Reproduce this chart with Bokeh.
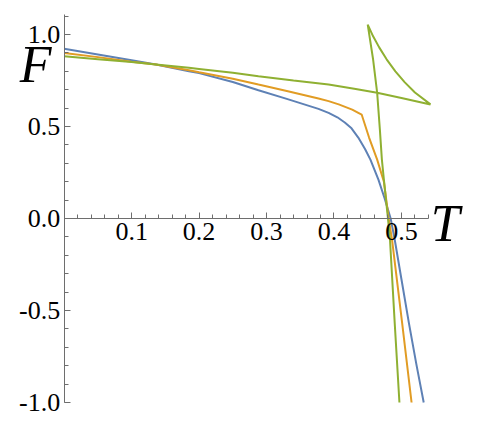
from bokeh.plotting import figure
from bokeh.models import FixedTicker, PrintfTickFormatter, Label, Range1d
from bokeh.embed import file_html
from bokeh.resources import INLINE

# ---- data ----
blue_T = [0.0, 0.05, 0.1, 0.136, 0.185, 0.2, 0.25, 0.288, 0.33, 0.377, 0.392, 0.405,
          0.416, 0.426, 0.436, 0.446, 0.454, 0.466, 0.475, 0.484, 0.490, 0.50, 0.511, 0.522, 0.533]
blue_F = [0.922, 0.891, 0.86, 0.837, 0.80, 0.79, 0.742, 0.697, 0.65, 0.596, 0.574, 0.55,
          0.522, 0.49, 0.44, 0.378, 0.32, 0.21, 0.11, 0.0, -0.114, -0.33, -0.567, -0.79, -1.0]

orange_T = [0.0, 0.05, 0.1, 0.136, 0.185, 0.2, 0.25, 0.288, 0.33, 0.377, 0.392, 0.407,
            0.427, 0.441, 0.452, 0.464, 0.474, 0.481, 0.486, 0.501, 0.515]
orange_F = [0.90, 0.877, 0.852, 0.837, 0.806, 0.795, 0.76, 0.728, 0.693, 0.652, 0.638, 0.62,
            0.592, 0.565, 0.44, 0.32, 0.2, 0.0, -0.114, -0.567, -1.0]

green_T = [0.0, 0.05, 0.1, 0.136, 0.185, 0.2, 0.25, 0.288, 0.34, 0.392, 0.43, 0.464, 0.5, 0.543,
           0.52, 0.505, 0.491, 0.478, 0.467, 0.458, 0.450,
           0.458, 0.464, 0.468, 0.471, 0.474, 0.480, 0.483, 0.490, 0.497]
green_F = [0.882, 0.866, 0.85, 0.837, 0.819, 0.813, 0.792, 0.773, 0.75, 0.728, 0.705, 0.683, 0.655, 0.62,
           0.685, 0.74, 0.80, 0.865, 0.93, 0.99, 1.054,
           0.864, 0.683, 0.484, 0.32, 0.21, 0.0, -0.114, -0.567, -1.0]

x_major = [0.1, 0.2, 0.3, 0.4, 0.5]
x_minor = [round(0.02 * i, 2) for i in range(1, 28)]
y_major = [-1.0, -0.5, 0.0, 0.5, 1.0]
y_minor = [round(-1.0 + 0.1 * i, 1) for i in range(0, 22)]

BLUE = "#5E81B5"
ORANGE = "#E19C24"
GREEN = "#8FB032"
SERIF = "Liberation Serif"

p = figure(width=468, height=422, output_backend="svg", toolbar_location=None,
           x_range=Range1d(-0.0855, 0.5994), y_range=Range1d(-1.1087, 1.1467),
           min_border_left=6, min_border_right=0, min_border_top=7, min_border_bottom=0)
p.outline_line_color = None
p.xgrid.visible = False
p.ygrid.visible = False
p.background_fill_color = "white"

p.line(blue_T, blue_F, line_color=BLUE, line_width=2)
p.line(orange_T, orange_F, line_color=ORANGE, line_width=2)
p.line(green_T, green_F, line_color=GREEN, line_width=2)

for ax in (p.xaxis[0], p.yaxis[0]):
    ax.axis_line_color = "#6e6e6e"
    ax.major_tick_line_color = "#6e6e6e"
    ax.minor_tick_line_color = "#6e6e6e"
    ax.major_tick_out = 0
    ax.minor_tick_out = 0
    ax.major_tick_in = 6
    ax.minor_tick_in = 4
    ax.major_label_text_font = SERIF
    ax.major_label_text_font_size = "26px"
    ax.major_label_text_color = "black"
    ax.formatter = PrintfTickFormatter(format="%.1f")
    ax.fixed_location = 0

p.xaxis[0].ticker = FixedTicker(ticks=x_major, minor_ticks=x_minor)
p.xaxis[0].bounds = (0.0, 0.54)
p.xaxis[0].major_label_standoff = 5
p.yaxis[0].ticker = FixedTicker(ticks=y_major, minor_ticks=y_minor)
p.yaxis[0].bounds = (-1.0, 1.11)
p.yaxis[0].major_label_standoff = 4

p.add_layout(Label(x=-0.066, y=0.68, text="F", text_font=SERIF, text_font_style="italic",
                   text_font_size="52px", text_color="black"))
p.add_layout(Label(x=0.5435, y=-0.18, text="T", text_font=SERIF, text_font_style="italic",
                   text_font_size="52px", text_color="black"))

open("out.html", "w").write(file_html(p, INLINE))
